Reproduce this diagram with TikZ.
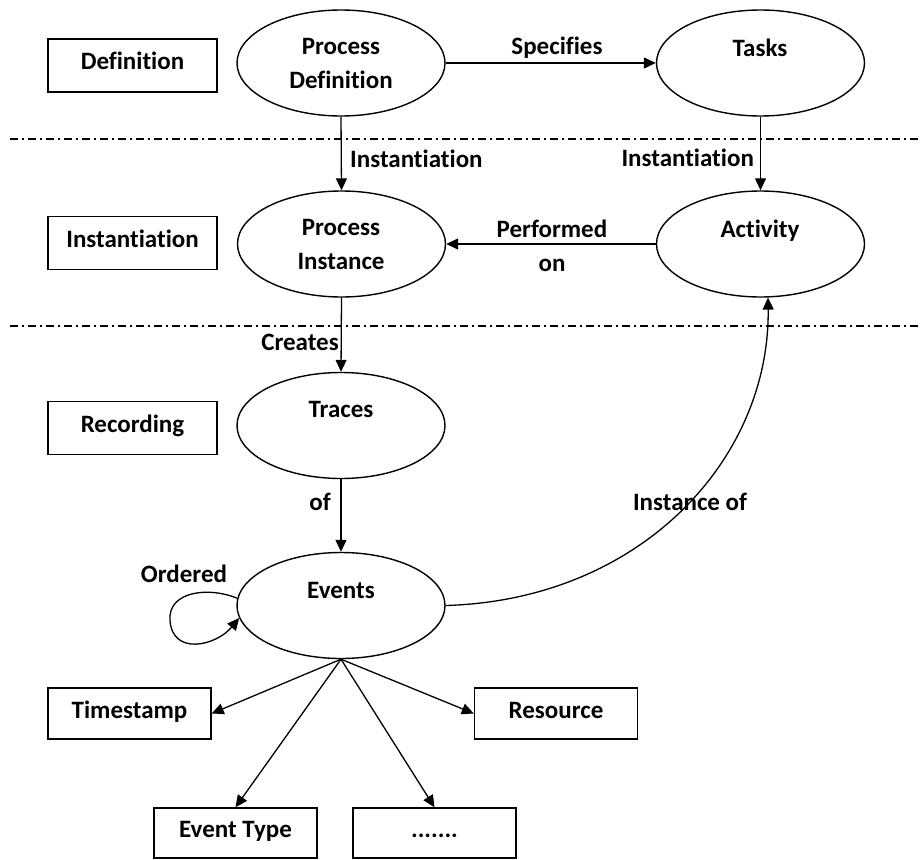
\documentclass[tikz,border=0pt]{standalone}
\usepackage{fontspec}
\setmainfont{Carlito}[Ligatures=NoCommon]
\usetikzlibrary{arrows.meta,shapes.geometric}
\begin{document}
\begin{tikzpicture}[x=1pt,y=-1pt,
  font=\fontsize{25}{34}\selectfont\bfseries,
  ell/.style={ellipse, draw, line width=1.4pt, minimum width=208pt, minimum height=106pt, inner sep=0pt},
  box/.style={draw, line width=1.4pt, minimum width=169pt, minimum height=53pt, inner sep=0pt, text height=17pt, text depth=8pt},
  sbox/.style={box, minimum width=163pt, minimum height=51pt},
  lbl/.style={inner sep=0pt, align=center},
  arr/.style={-{Triangle[length=12pt,width=11pt]}, line width=1.3pt},
  sepline/.style={line width=1.5pt, dash pattern=on 8pt off 4pt on 2pt off 4pt}
]
\useasboundingbox (0,0) rectangle (920,859);

% separators
\draw[sepline] (10,139) -- (920,139);
\draw[sepline] (10,326) -- (920,326);

% left boxes
\node[box] (defb) at (132.5,65.5) {Definition};
\node[box] (instb) at (132.5,243) {Instantiation};
\node[box] (recb) at (132.5,428) {Recording};

% ellipses
\node[ell] (pd) at (341,63) {};
\node[ell] (tk) at (760.5,63) {};
\node[ell] (pi) at (341.5,244) {};
\node[ell] (ac) at (760.5,244) {};
\node[ell] (tr) at (341,425.5) {};
\node[ell] (ev) at (341,605.5) {};

% ellipse texts
\node[lbl] (pdt) at (341,63) {Process\\Definition};
\node[lbl] (tkt) at (760,48) {Tasks};
\node[lbl] (pit) at (341,244.5) {Process\\Instance};
\node[lbl] (act) at (760,231) {Activity};
\node[lbl] (trt) at (341,409) {Traces};
\node[lbl] (evt) at (341,590) {Events};

% attribute boxes
\node[sbox] (tsb) at (129.5,713.5) {Timestamp};
\node[sbox] (resb) at (556,713.5) {Resource};
\node[sbox, minimum height=50pt] (etb) at (235.5,833) {Event Type};
\node[sbox, minimum height=50pt] (dotb) at (434.5,833) {.......};

% connectors
\draw[arr] (pd.east) -- (tk.west);
\node[lbl] (lspec) at (557,48) {Specifies};
\draw[arr] (pd.south) -- (pi.north);
\node[lbl, anchor=west] (linst1) at (350,159) {Instantiation};
\draw[arr] (tk.south) -- (ac.north);
\node[lbl, anchor=east] (linst2) at (754,158) {Instantiation};
\draw[arr] (ac.west) -- (pi.east);
\node[lbl] (lperf) at (552,245.5) {Performed\\on};
\draw[arr] (pi.south) -- (tr.north);
\node[lbl] (lcre) at (300,342) {Creates};
\draw[arr] (tr.south) -- (ev.north);
\node[lbl] (lof) at (320,502) {of};
\draw[arr] (ev.176) .. controls (207,586) and (168,592) .. (170,620)
   .. controls (172,656) and (216,646) .. (ev.187);
\node[lbl] (lord) at (184,574) {Ordered};
\draw[arr] (ev.east) .. controls (640,600) and (770,460) .. (ac.-82);
\node[lbl] (linof) at (690,502) {Instance of};

\draw[arr] (ev.south) -- (tsb.east);
\draw[arr] (ev.south) -- (resb.west);
\draw[arr] (ev.south) -- (etb.north);
\draw[arr] (ev.south) -- (dotb.north);
\end{tikzpicture}
\end{document}
